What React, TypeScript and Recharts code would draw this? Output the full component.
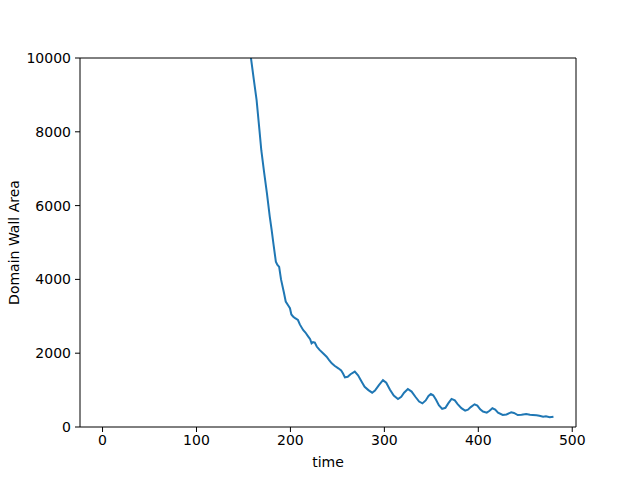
import React from "react";
import { LineChart, Line, XAxis, YAxis, ReferenceLine } from "recharts";

const times = [0, 20, 40, 60, 80, 100, 120, 140, 150, 155, 158, 161, 164, 167, 169, 172, 175, 178, 180, 182, 184.5, 186, 188, 190, 193, 195, 197.5, 199.5, 201, 203, 205, 208, 210, 213.5, 216, 219, 221, 222.5, 224, 226, 228, 231, 235, 238.5, 241, 244, 247, 251, 254, 256, 258, 261, 264, 268.5, 272, 276, 279, 283, 287, 290, 294, 298.5, 302, 306, 310, 314.5, 318, 321, 325, 329, 333, 337, 340.5, 344, 347, 349.5, 352, 355, 358, 361.5, 365, 368, 371.5, 375, 378, 382, 386, 389, 392, 396, 399, 402, 405, 409, 412, 415, 418, 421, 426, 430, 435, 438, 442, 446, 451, 455, 458, 462, 465, 469, 472, 476, 480];

const areas = [130000, 95000, 70000, 50000, 36000, 26000, 19000, 13800, 11500, 10600, 10000, 9420, 8860, 8050, 7500, 6900, 6330, 5700, 5340, 4950, 4480, 4400, 4340, 4000, 3650, 3400, 3300, 3220, 3050, 2990, 2950, 2900, 2780, 2630, 2560, 2450, 2380, 2270, 2300, 2285, 2180, 2090, 1990, 1905, 1820, 1725, 1660, 1590, 1530, 1450, 1345, 1360, 1430, 1500, 1400, 1220, 1090, 1000, 930, 990, 1130, 1270, 1200, 1010, 850, 760, 820, 930, 1030, 960, 820, 690, 640, 720, 840, 894, 860, 740, 590, 490, 520, 640, 760, 720, 620, 510, 445, 470, 540, 615, 580, 480, 420, 390, 440, 507, 470, 390, 325, 340, 398, 380, 325, 330, 352, 330, 325, 320, 306, 280, 290, 263, 280];

const xTicks = [0, 100, 200, 300, 400, 500];
const yTicks = [0, 2000, 4000, 6000, 8000, 10000];
const xDomain = [-24, 504];
const yDomain = [0, 10000];

const data = times.map((t, i) => ({ t, a: areas[i] }));

const FONT = "DejaVu Sans, sans-serif";
const tickStyle = { fontSize: 14, fill: "#000", fontFamily: FONT };

export default function App() {
  return (
    <div style={{ position: "absolute", left: 0, top: 0, background: "#fff" }}>
      <LineChart
        width={640}
        height={480}
        data={data}
        margin={{ top: 58, right: 64, bottom: 0, left: 0 }}
      >
        <XAxis
          dataKey="t"
          type="number"
          domain={xDomain}
          ticks={xTicks}
          allowDataOverflow
          tickSize={5}
          tickMargin={3}
          height={53}
          tick={tickStyle}
          stroke="#000"
          tickLine={{ stroke: "#000" }}
          axisLine={{ stroke: "#000" }}
          label={(props: any) => {
            const vb = props.viewBox;
            return (
              <text
                x={vb.x + vb.width / 2}
                y={vb.y + 35}
                textAnchor="middle"
                dominantBaseline="central"
                fontSize={14}
                fontFamily={FONT}
                fill="#000"
              >
                time
              </text>
            );
          }}
        />
        <YAxis
          type="number"
          domain={yDomain}
          ticks={yTicks}
          allowDataOverflow
          width={80}
          tickSize={5}
          tickMargin={4}
          tick={tickStyle}
          stroke="#000"
          label={(props: any) => {
            const vb = props.viewBox;
            const cx = 14;
            const cy = vb.y + vb.height / 2;
            return (
              <text
                x={cx}
                y={cy}
                transform={`rotate(-90, ${cx}, ${cy})`}
                textAnchor="middle"
                dominantBaseline="central"
                fontSize={14}
                fontFamily={FONT}
                fill="#000"
              >
                Domain Wall Area
              </text>
            );
          }}
        />
        <Line
          dataKey="a"
          type="linear"
          stroke="#1f77b4"
          strokeWidth={2}
          dot={false}
          isAnimationActive={false}
        />
        <ReferenceLine y={yDomain[1]} stroke="#000" strokeWidth={1} ifOverflow="visible" />
        <ReferenceLine x={xDomain[1]} stroke="#000" strokeWidth={1} ifOverflow="visible" />
      </LineChart>
    </div>
  );
}
